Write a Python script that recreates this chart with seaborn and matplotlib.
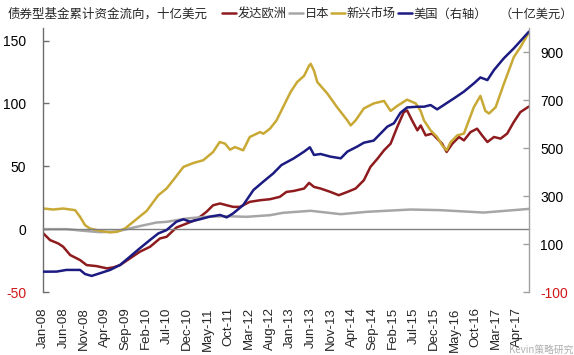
import matplotlib
matplotlib.use("Agg")
import matplotlib.pyplot as plt
import seaborn as sns
import pandas as pd

# ---------------- data ----------------
# x = months since Jan-08 (fractional), values in billion USD
eu_pts = [(0.1, -3.4), (1.7, -8.7), (3.7, -11.4), (4.9, -14), (6.6, -20.6), (9.0, -24.6),
          (10.6, -28.6), (13.0, -29.4), (15.5, -31.2), (17.1, -30.4), (18.7, -28.6), (21.1, -23.3),
          (23.5, -18), (26.0, -14), (28.4, -7.4), (30.0, -6.1), (32.4, 1.3), (34.9, 4.5),
          (37.3, 7.7), (39.7, 13.8), (41.3, 19), (43.0, 20.4), (44.6, 19), (46.2, 17.7),
          (47.8, 17.7), (50.2, 21.7), (52.7, 23), (55.1, 23.8), (57.5, 25.7), (59.1, 29.6),
          (60.9, 30.4), (63.4, 32.3), (64.6, 36.8), (65.8, 33.6), (67.4, 32.3), (69.8, 29.6),
          (71.8, 27), (73.9, 29.6), (75.9, 32.3), (77.9, 38.9), (79.5, 49.5), (81.2, 56),
          (82.8, 62.7), (84.4, 68), (86.0, 81.2), (87.6, 93.1), (88.4, 94.4), (89.6, 86.5),
          (90.9, 78.6), (91.7, 82.5), (92.9, 74.6), (94.5, 76), (95.7, 72), (96.9, 68),
          (98.0, 61.4), (99.4, 68), (101.0, 73.3), (102.2, 70.6), (103.8, 77.2), (105.4, 79.9),
          (106.6, 74.6), (107.9, 69.3), (109.5, 73.3), (111.1, 72), (112.7, 76), (114.3, 85.2),
          (115.9, 93.1), (118.0, 97.6)]

jp_pts = [(0.1, 0), (5.7, 0), (9.8, -1.3), (13.8, -2.4), (17.9, -1.9), (20.3, 0), (23.5, 2.4),
          (27.6, 5.3), (30.0, 5.8), (34.9, 8.5), (39.6, 9.8), (44.6, 10.3), (49.4, 9.8),
          (55.1, 11.1), (58.3, 13), (65.0, 14.6), (72.3, 11.9), (78.7, 13.8), (89.2, 15.6),
          (96.5, 15.1), (107.0, 13.2), (118.0, 16.1)]

em_pts = [(0.1, 16.4), (2.5, 15.6), (4.9, 16.4), (7.8, 15.1), (9.0, 9.8), (10.2, 3.2), (11.4, 0.5),
          (13.8, -1.3), (16.3, -2.6), (17.9, -2.1), (19.9, 0.5), (21.9, 5.8), (25.2, 14.6),
          (28.0, 27.0), (30.0, 32.3), (31.6, 38.9), (34.1, 49.5), (36.5, 52.6), (38.9, 54.8),
          (41.3, 61.4), (42.9, 69.3), (44.2, 68.0), (45.4, 63.2), (46.6, 65.3), (48.6, 62.7),
          (50.2, 73.3), (52.7, 77.2), (53.5, 75.9), (55.1, 79.9), (56.7, 86.5), (58.3, 97.1),
          (60.1, 109), (61.7, 117), (63.4, 122), (64.6, 130), (65.0, 131.5), (65.8, 126),
          (66.6, 117), (69.0, 108), (71.4, 97), (73.9, 86.5), (74.7, 82.5), (75.9, 86.5),
          (77.9, 96), (80.3, 100), (82.8, 102), (84.4, 94), (86.0, 98), (88.4, 103), (90.5, 100),
          (91.7, 94), (92.5, 86.5), (94.1, 78.6), (95.7, 73.3), (96.9, 66.7), (98.0, 62.7),
          (99.0, 69.3), (100.6, 74.6), (102.2, 76), (103.4, 86.5), (104.6, 97), (106.2, 106),
          (107.4, 94), (108.3, 92), (109.9, 97), (111.9, 115.6), (114.3, 136.8), (115.9, 144.7),
          (118.0, 156.6)]

us_pts = [(0.1, -15.3), (3.3, -15), (5.7, -8), (9.0, -8), (10.2, -25), (11.8, -33), (13.8, -22),
          (16.3, -8), (18.7, 12.5), (21.1, 47), (23.5, 82), (26.0, 117), (28.0, 144), (30.0, 158),
          (32.4, 193), (34.1, 203), (35.7, 193), (38.1, 203), (40.5, 214), (43.0, 221),
          (44.6, 211), (46.2, 228), (48.6, 262), (51.1, 325), (53.5, 360), (55.9, 394),
          (57.9, 429), (60.9, 457), (63.4, 485), (64.8, 503), (65.8, 471), (67.4, 475),
          (69.8, 464), (72.3, 457), (73.9, 485), (76.3, 506), (77.9, 522), (80.3, 531),
          (82.0, 561), (83.6, 589), (85.2, 603), (86.8, 647), (88.4, 669), (90.9, 672),
          (92.5, 672), (94.1, 679), (95.7, 661), (97.3, 679), (99.8, 707), (102.2, 735),
          (104.6, 769), (106.2, 794), (107.9, 783), (109.5, 825), (111.9, 874), (114.3, 915),
          (118.0, 985)]

series_names = ["发达欧洲", "日本", "新兴市场", "美国（右轴）"]
x_tick_labels = ["Jan-08", "Jun-08", "Nov-08", "Apr-09", "Sep-09", "Feb-10", "Jul-10", "Dec-10",
                 "May-11", "Oct-11", "Mar-12", "Aug-12", "Jan-13", "Jun-13", "Nov-13", "Apr-14",
                 "Sep-14", "Feb-15", "Jul-15", "Dec-15", "May-16", "Oct-16", "Mar-17", "Apr-17"]
x_tick_pos = [5 * i for i in range(len(x_tick_labels))]
left_ticks = [-50, 0, 50, 100, 150]
right_ticks = [-100, 100, 300, 500, 700, 900]

title_text = "债券型基金累计资金流向，十亿美元"
right_unit = "（十亿美元）"
watermark = "Kevin策略研究"

# ---------------- style ----------------
sns.set_style("white")
plt.rcParams["font.family"] = ["Liberation Sans", "Noto Sans CJK SC", "DejaVu Sans"]
plt.rcParams["axes.unicode_minus"] = False

colors = ["#8E1B1E", "#A6A6A6", "#C9A935", "#1B1B82"]
LW = 1.8
NEG = "#D01818"
SPINE = "#808080"

fig = plt.figure(figsize=(5.74, 3.55), dpi=100)
ax = fig.add_axes([43 / 574, 1 - 292 / 355, (529 - 43) / 574, (292 - 28) / 355])


def frame(pts):
    return pd.DataFrame(pts, columns=["m", "v"])


handles = []
for pts, c, name in zip([eu_pts, jp_pts, em_pts], colors[:3], series_names[:3]):
    d = frame(pts)
    sns.lineplot(data=d, x="m", y="v", ax=ax, color=c, lw=LW, label=name, legend=False)
    handles.append(ax.get_lines()[-1])

ax2 = ax.twinx()
d = frame(us_pts)
sns.lineplot(data=d, x="m", y="v", ax=ax2, color=colors[3], lw=LW, label=series_names[3], legend=False)
handles.append(ax2.get_lines()[-1])

ax.set_xlim(0, 118)
ax.set_ylim(-50, 160)
ax2.set_ylim(-100, 1000)
ax.set_xlabel("")
ax.set_ylabel("")
ax2.set_ylabel("")

# spines
for s in ["top", "right"]:
    ax.spines[s].set_visible(False)
for s in ["top", "bottom", "left"]:
    ax2.spines[s].set_visible(False)
ax.spines["bottom"].set_position(("data", 0))
ax.spines["bottom"].set_color(SPINE)
ax.spines["left"].set_color("#6E6E6E")
ax2.spines["right"].set_color("#A0A0A0")
for sp in [ax.spines["bottom"], ax.spines["left"], ax2.spines["right"]]:
    sp.set_linewidth(1.0)

# x ticks on the zero line (no labels), labels at bottom via secondary axis
ax.set_xticks(x_tick_pos)
ax.tick_params(axis="x", direction="out", length=4, width=1, color=SPINE, labelbottom=False)
sec = ax.secondary_xaxis(0.0)
sec.set_xticks(x_tick_pos, x_tick_labels, rotation=90, fontsize=9.5)
sec.tick_params(length=0, pad=11)
sec.spines["bottom"].set_visible(False)

# y ticks
ax.set_yticks(left_ticks, [str(t) for t in left_ticks])
ax.tick_params(axis="y", direction="in", length=4, width=1, color="#6E6E6E", labelsize=10, pad=12)
ax2.set_yticks(right_ticks, [str(t) for t in right_ticks])
ax2.tick_params(axis="y", direction="in", length=4, width=1, color="#A0A0A0", labelsize=10, pad=8)
for lab, t in zip(ax.get_yticklabels(), left_ticks):
    lab.set_color(NEG if t < 0 else "black")
for lab, t in zip(ax2.get_yticklabels(), right_ticks):
    lab.set_color(NEG if t < 0 else "black")

# header texts and legend
cjk = ["Noto Sans CJK SC", "DejaVu Sans"]
fig.text(8 / 574, 1 - 14 / 355, title_text, ha="left", va="center", fontsize=9, family=cjk)
fig.legend(handles, series_names, loc="center left", bbox_to_anchor=(222 / 574, 1 - 14 / 355),
           ncol=4, frameon=False, handlelength=1.15, handletextpad=0.12, columnspacing=0.2,
           borderaxespad=0, borderpad=0, prop={"family": cjk, "size": 8.8})
fig.text(573 / 574, 1 - 14 / 355, right_unit, ha="right", va="center", fontsize=8.8, family=cjk)

# watermark (kept clear of the tick labels)
fig.text(573 / 574, 1 - 350 / 355, watermark, ha="right", va="center", fontsize=7,
         color="#9A9A9A", alpha=0.8, family=cjk)

fig.savefig("out.png", dpi=100)
